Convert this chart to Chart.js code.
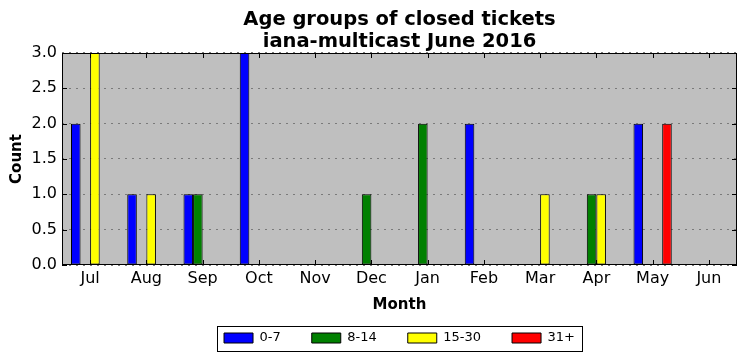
<!DOCTYPE html>
<html>
<head>
<meta charset="utf-8">
<script src="https://cdn.jsdelivr.net/npm/chart.js@4/dist/chart.umd.min.js"></script>
<style>
  body { margin: 0; background: #fff; }
</style>
</head>
<body>
<canvas id="chart" width="746" height="361"></canvas>
<script>
const months = ['Jul', 'Aug', 'Sep', 'Oct', 'Nov', 'Dec', 'Jan', 'Feb', 'Mar', 'Apr', 'May', 'Jun'];
const age0to7 = [2, 1, 1, 3, 0, 0, 0, 2, 0, 0, 2, 0];
const age8to14 = [0, 0, 1, 0, 0, 1, 2, 0, 0, 1, 0, 0];
const age15to30 = [3, 1, 0, 0, 0, 0, 0, 0, 1, 1, 0, 0];
const age31plus = [0, 0, 0, 0, 0, 0, 0, 0, 0, 0, 2, 0];
const yTicks = [0, 0.5, 1, 1.5, 2, 2.5, 3];

const font = 'DejaVu Sans';

// grey plot background, black frame and inward ticks like matplotlib
const framePlugin = {
    id: 'frame',
    beforeDraw(chart) {
        const {ctx, chartArea: a} = chart;
        ctx.save();
        ctx.fillStyle = '#bfbfbf';
        ctx.fillRect(a.left, a.top, a.right - a.left, a.bottom - a.top);
        ctx.restore();
    },
    afterDraw(chart) {
        const {ctx, chartArea: a, scales} = chart;
        ctx.save();
        ctx.strokeStyle = '#000';
        ctx.lineWidth = 1;
        ctx.strokeRect(a.left + 0.5, a.top + 0.5, a.right - a.left - 1, a.bottom - a.top - 1);
        ctx.beginPath();
        months.forEach((m, i) => {
            const x = Math.round(scales.x.getPixelForValue(i)) + 0.5;
            ctx.moveTo(x, a.bottom);
            ctx.lineTo(x, a.bottom - 5);
            ctx.moveTo(x, a.top);
            ctx.lineTo(x, a.top + 5);
        });
        yTicks.forEach(v => {
            const y = Math.round(scales.y.getPixelForValue(v)) + 0.5;
            ctx.moveTo(a.left, y);
            ctx.lineTo(a.left + 5, y);
            ctx.moveTo(a.right, y);
            ctx.lineTo(a.right - 5, y);
        });
        ctx.stroke();

        // legend frame
        const boxes = chart.legend.legendHitBoxes;
        if (boxes && boxes.length) {
            const first = boxes[0];
            const last = boxes[boxes.length - 1];
            const l = first.left - 7;
            const r = last.left + last.width + 7;
            const t = first.top - 5.5;
            const b = first.top + 19.5;
            ctx.strokeRect(Math.round(l) + 0.5, Math.round(t) + 0.5, Math.round(r - l), Math.round(b - t));
        }
        ctx.restore();
    }
};

new Chart(document.getElementById('chart'), {
    type: 'bar',
    data: {
        labels: months,
        datasets: [
            { label: '0-7', data: age0to7, backgroundColor: '#0000ff' },
            { label: '8-14', data: age8to14, backgroundColor: '#008000' },
            { label: '15-30', data: age15to30, backgroundColor: '#ffff00' },
            { label: '31+', data: age31plus, backgroundColor: '#ff0000' }
        ]
    },
    options: {
        responsive: false,
        animation: false,
        events: [],
        layout: {
            padding: { right: 9, bottom: 6.5 }
        },
        datasets: {
            bar: {
                borderColor: '#000',
                borderWidth: 1,
                borderSkipped: false,
                categoryPercentage: 0.68,
                barPercentage: 1
            }
        },
        plugins: {
            title: {
                display: true,
                fullSize: false,
                text: ['Age groups of closed tickets', 'iana-multicast June 2016'],
                color: '#000',
                font: { family: font, size: 19.5, weight: 'bold', lineHeight: 1.128 },
                padding: { top: 9, bottom: 0 }
            },
            legend: {
                position: 'bottom',
                fullSize: false,
                labels: {
                    color: '#000',
                    font: { family: font, size: 13 },
                    boxWidth: 29,
                    boxHeight: 10,
                    padding: 31
                }
            },
            tooltip: { enabled: false }
        },
        scales: {
            x: {
                offset: true,
                grid: { display: false, drawTicks: false },
                border: { display: false },
                ticks: { color: '#000', font: { family: font, size: 16 }, padding: 4, maxRotation: 0 },
                title: {
                    display: true,
                    text: 'Month',
                    color: '#000',
                    font: { family: font, size: 15, weight: 'bold' },
                    padding: { top: 0, bottom: -13.5 }
                },
                afterFit(scale) { scale.height = 35.5; }
            },
            y: {
                min: 0,
                max: 3,
                grid: {
                    color: '#7a7a7a',
                    drawTicks: false
                },
                border: { display: false, dash: [2, 5] },
                ticks: {
                    stepSize: 0.5,
                    color: '#000',
                    font: { family: font, size: 16 },
                    padding: 5,
                    callback: v => v.toFixed(1)
                },
                title: {
                    display: true,
                    text: 'Count',
                    color: '#000',
                    font: { family: font, size: 15, weight: 'bold' },
                    padding: { top: 8, bottom: 0 }
                },
                afterFit(scale) { scale.width = 62; }
            }
        }
    },
    plugins: [framePlugin]
});
</script>
</body>
</html>
